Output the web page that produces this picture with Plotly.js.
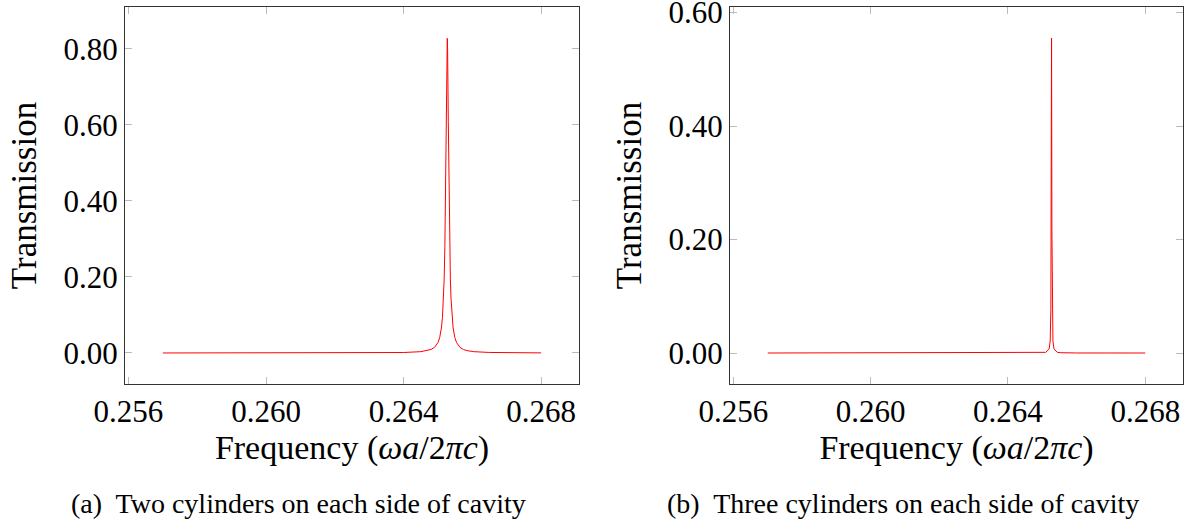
<!DOCTYPE html>
<html>
<head>
<meta charset="utf-8">
<script src="https://cdn.plot.ly/plotly-3.0.1.min.js"></script>
<style>html,body{margin:0;padding:0;background:#fff;}#chart{width:1196px;height:527px;}</style>
</head>
<body>
<div id="chart"></div>
<script>
// Panel (a): two cylinders on each side of cavity
var freqA = [0.2570, 0.2600, 0.2620, 0.2635, 0.2640, 0.2645, 0.2647, 0.2648, 0.2649, 0.2650, 0.26505, 0.2651, 0.26513, 0.26516, 0.26518, 0.2652, 0.26522, 0.26524, 0.26526, 0.26527, 0.26528, 0.26530, 0.26532, 0.26534, 0.26536, 0.26538, 0.26541, 0.26544, 0.26549, 0.26554, 0.26564, 0.26574, 0.26584, 0.26604, 0.2665, 0.2670, 0.2680];
var transA = [0.00003, 0.00008, 0.0002, 0.0007, 0.0013, 0.0035, 0.0063, 0.0093, 0.0148, 0.0274, 0.0406, 0.0659, 0.0937, 0.1418, 0.195, 0.280, 0.414, 0.609, 0.796, 0.828, 0.796, 0.609, 0.414, 0.280, 0.195, 0.1418, 0.0937, 0.0659, 0.0406, 0.0274, 0.0148, 0.0093, 0.0063, 0.0035, 0.0014, 0.0007, 0.0003];
// Panel (b): three cylinders on each side of cavity
var freqB = [0.2570, 0.2620, 0.2645, 0.2650, 0.2651, 0.2652, 0.26523, 0.26525, 0.26526, 0.265265, 0.26527, 0.265275, 0.26528, 0.26529, 0.26531, 0.26534, 0.26544, 0.26554, 0.2660, 0.2680];
var transB = [0.0000, 0.0000, 0.00006, 0.0005, 0.0012, 0.0072, 0.0213, 0.0766, 0.2166, 0.399, 0.555, 0.399, 0.2166, 0.0766, 0.0213, 0.0072, 0.0012, 0.0005, 0.00007, 0.0000];
var xTicks = [0.256, 0.260, 0.264, 0.268];
var xTickText = ["0.256", "0.260", "0.264", "0.268"];
var yTicksA = [0, 0.2, 0.4, 0.6, 0.8];
var yTicksB = [0, 0.2, 0.4, 0.6];
var xTitle = "Frequency (<i>ωa</i>/2<i>πc</i>)";
var yTitle = "Transmission";
var captionA = "(a)  Two cylinders on each side of cavity";
var captionB = "(b)  Three cylinders on each side of cavity";

var FONT = "Liberation Serif, DejaVu Serif, serif";
var traces = [
  {x: freqA, y: transA, type: "scatter", mode: "lines", line: {color: "#ff0000", width: 1}, xaxis: "x", yaxis: "y", hoverinfo: "none"},
  {x: freqB, y: transB, type: "scatter", mode: "lines", line: {color: "#ff0000", width: 1}, xaxis: "x2", yaxis: "y2", hoverinfo: "none"}
];
function xa(domain, anchor) {
  return {domain: domain, anchor: anchor, range: [0.25590, 0.26910], tickvals: xTicks, ticktext: xTickText,
    ticks: "inside", ticklen: 7, tickcolor: "#bbbbbb", tickwidth: 1, mirror: "allticks", showline: true,
    linecolor: "#333333", linewidth: 1, showgrid: false, zeroline: false, ticklabeloverflow: "allow",
    tickfont: {family: FONT, size: 31, color: "#000"},
    title: {text: xTitle, font: {family: FONT, size: 34, color: "#000"}, standoff: 3}};
}
function ya(domain, anchor, range, vals) {
  return {domain: domain, anchor: anchor, range: range, tickvals: vals, tickformat: ".2f",
    ticks: "inside", ticklen: 7, tickcolor: "#bbbbbb", tickwidth: 1, mirror: "allticks", showline: true,
    linecolor: "#333333", linewidth: 1, showgrid: false, zeroline: false, ticklabeloverflow: "allow",
    tickfont: {family: FONT, size: 31, color: "#000"},
    title: {text: yTitle, font: {family: FONT, size: 35, color: "#000"}, standoff: 16}};
}
var yd = [1 - 384/527, 1 - 7/527];
var layout = {
  width: 1196, height: 527,
  margin: {l: 0, r: 0, t: 0, b: 0},
  paper_bgcolor: "#fff", plot_bgcolor: "#fff",
  showlegend: false,
  xaxis: xa([125/1196, 579/1196], "y"),
  yaxis: ya(yd, "x", [-0.0816, 0.9105], yTicksA),
  xaxis2: xa([730/1196, 1183/1196], "y2"),
  yaxis2: ya(yd, "x2", [-0.0546, 0.6097], yTicksB),
  annotations: [
    {text: captionA, xref: "paper", yref: "paper", x: 298/1196, y: 1 - 503/527, xanchor: "center", yanchor: "middle", showarrow: false, font: {family: FONT, size: 28, color: "#000"}},
    {text: captionB, xref: "paper", yref: "paper", x: 903/1196, y: 1 - 503/527, xanchor: "center", yanchor: "middle", showarrow: false, font: {family: FONT, size: 28, color: "#000"}}
  ]
};
Plotly.newPlot("chart", traces, layout, {staticPlot: true, displayModeBar: false});
</script>
</body>
</html>
